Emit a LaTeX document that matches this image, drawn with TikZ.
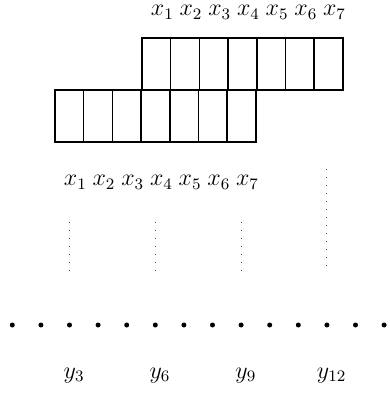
\documentclass[tikz,border=0pt]{standalone}
\usetikzlibrary{positioning}
\tikzset{
  cellbox/.style={draw,line width=0.75pt,minimum width=14.35pt,minimum height=26pt,inner sep=0pt,outer sep=0pt},
  seqdot/.style={circle,fill,inner sep=0pt,minimum size=2.5pt},
  guide/.style={line width=0.5pt,dash pattern=on 0.5pt off 3.5pt,black!70},
  lbl/.style={anchor=base,font=\large,inner sep=0pt}
}
\begin{document}
\begin{tikzpicture}[x=0.5pt,y=-0.5pt]
  \useasboundingbox (0,0) rectangle (389,394);

  % upper row of cells and its labels
  \foreach \i in {1,...,7} {
    \node[cellbox] (up\i) at ({142+14.35+28.7*(\i-1)},64) {};
    \node[lbl] (ux\i) at ({148+14.35+28.7*(\i-1)},16) {$x_{\i}$};
  }

  % lower row, shifted three cells left
  \foreach \i in {1,...,7} {
    \node[cellbox] (lo\i) at ({55+14.35+28.7*(\i-1)},116) {};
    \node[lbl] (lx\i) at ({61+14.35+28.7*(\i-1)},186) {$x_{\i}$};
  }

  % row of sequence dots
  \foreach \k in {1,...,14}
    \node[seqdot] (d\k) at ({12.3+28.6*(\k-1)},325) {};

  % dotted guides and outputs
  \foreach \k in {3,6,9} {
    \coordinate (gt\k) at ({12.3+28.6*(\k-1)},222);
    \coordinate (gb\k) at ({12.3+28.6*(\k-1)},271);
    \draw[guide] (gt\k) -- (gb\k);
  }
  \coordinate (gt12) at ({12.3+28.6*11},169);
  \coordinate (gb12) at ({12.3+28.6*11},271);
  \draw[guide] (gt12) -- (gb12);

  \foreach \k in {3,6,9,12}
    \node[lbl] (y\k) at ({17+28.6*(\k-1)},378) {$y_{\k}$};
\end{tikzpicture}
\end{document}
